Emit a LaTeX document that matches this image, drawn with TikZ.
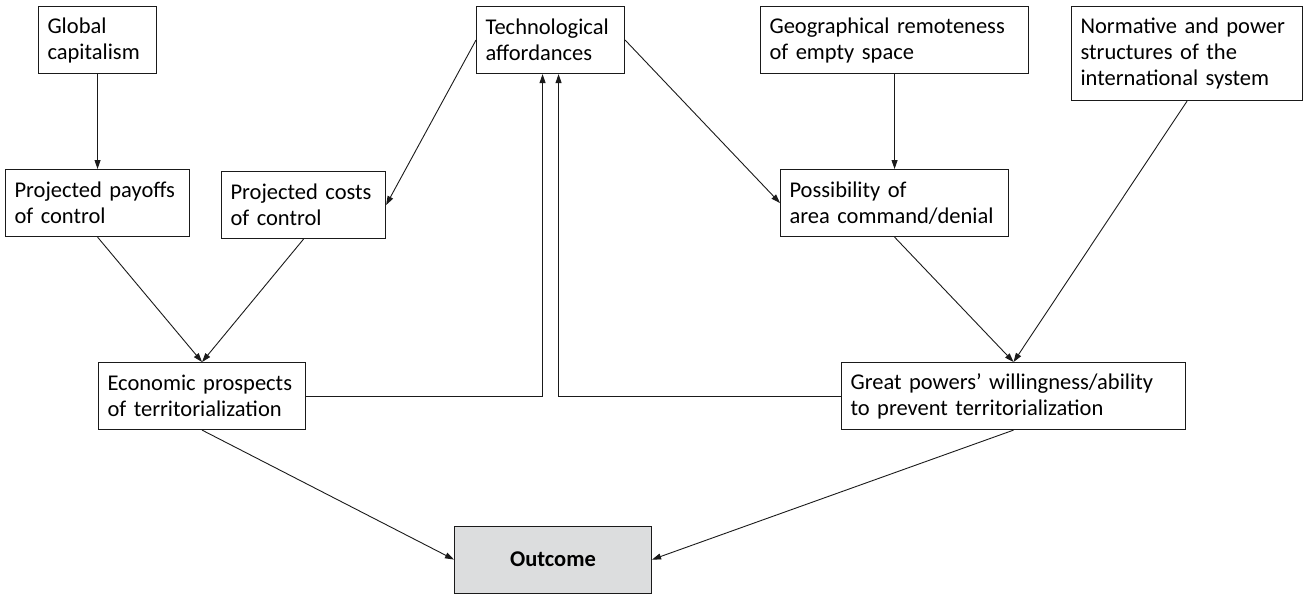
\documentclass[tikz,border=0pt]{standalone}
\usepackage{fontspec}
\setmainfont{Carlito}
\usetikzlibrary{arrows.meta}
\definecolor{outfill}{HTML}{DCDDDE}
\definecolor{linec}{HTML}{1A1A1A}
\begin{document}
\begin{tikzpicture}[x=1pt,y=-1pt,
  box/.style={draw=linec,line width=1.1pt,anchor=north west,align=left,
    inner xsep=9pt,inner ysep=0pt,font=\fontsize{22.5}{26}\selectfont,
    minimum height=#1},
  box/.default=67pt,
  conn/.style={draw=linec,line width=0.9pt,-{Triangle[length=9pt,width=6pt]}},
  plain/.style={draw=linec,line width=0.9pt}]
\useasboundingbox (0,0) rectangle (1306,594);
\node[box,text width=100pt] (glob) at (38,6) {Global\\capitalism};
\node[box,text width=166pt] (pay) at (5,169) {Projected payoffs\\of control};
\node[box,text width=146pt] (costs) at (221,171) {Projected costs\\of control};
\node[box,text width=130pt] (tech) at (476,6) {Technological\\affordances};
\node[box,text width=250pt] (geo) at (760,6) {Geographical remoteness\\of empty space};
\node[box=94pt,text width=213pt] (norm) at (1071,6) {Normative and power\\structures of the\\international system};
\node[box,text width=210pt] (poss) at (780,169) {Possibility of\\area command/denial};
\node[box,text width=189pt] (econ) at (98,362) {Economic prospects\\of territorialization};
\node[box,text width=326pt] (great) at (841,362) {Great powers’ willingness/ability\\to prevent territorialization};
\node[box,fill=outfill,align=center,text width=179pt,font=\fontsize{22.5}{26}\selectfont\bfseries] (outc) at (454,525.5) {Outcome};
\draw[conn] (glob.south) -- (pay.north);
\draw[conn] (tech.west) -- (costs.east);
\draw[conn] (tech.east) -- (poss.west);
\draw[conn] (geo.south) -- (poss.north);
\draw[conn] (pay.south) -- (econ.north);
\draw[conn] (costs.south) -- (econ.north);
\draw[conn] (poss.south) -- (great.north);
\draw[conn] (norm.south) -- (great.north);
\draw[conn] (econ.east) -| ([xshift=-8pt]tech.south);
\draw[conn] (great.west) -| ([xshift=8pt]tech.south);
\draw[conn] (econ.south) -- (outc.west);
\draw[conn] (great.south) -- (outc.east);
\end{tikzpicture}
\end{document}
